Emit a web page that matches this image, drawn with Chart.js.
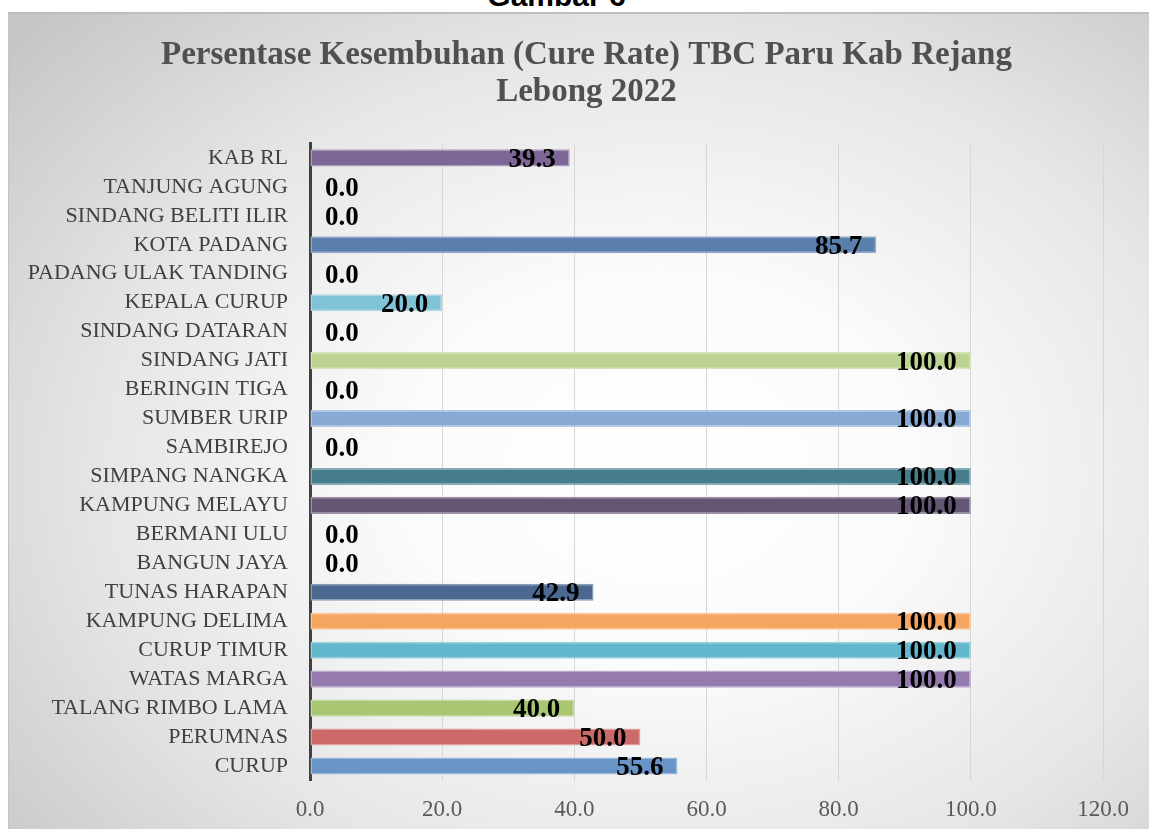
<!DOCTYPE html>
<html>
<head>
<meta charset="utf-8">
<script src="https://cdn.jsdelivr.net/npm/chart.js@4"></script>
<style>
  html, body { margin: 0; padding: 0; background: #ffffff; width: 1149px; height: 829px; overflow: hidden; }
  #caption { position: absolute; left: 0; width: 1113px; top: -19px; text-align: center;
    font: bold 30px "Liberation Sans", Arial, sans-serif; line-height: 30px; color: #000; }
  #frame { position: absolute; left: 8px; top: 12px; width: 1141px; height: 817px; box-sizing: border-box;
    border-top: 2px solid #bdbdbd; border-left: 1px solid #c4c4c4;
    background: radial-gradient(ellipse 75% 80% at 57% 56%, #ffffff 0%, #fbfbfb 30%, #e6e6e6 65%, #c6c6c6 100%); }
  #wrap { position: absolute; left: 0; top: 1px; width: 1140px; height: 816px; }
</style>
</head>
<body>
<div id="caption">Gambar 6</div>
<div id="frame"><div id="wrap"><canvas id="c"></canvas></div></div>
<script>
const titleLines = ["Persentase Kesembuhan (Cure Rate) TBC Paru Kab Rejang", "Lebong 2022"];
const categories = ["KAB RL", "TANJUNG AGUNG", "SINDANG BELITI ILIR", "KOTA PADANG", "PADANG ULAK TANDING",
  "KEPALA CURUP", "SINDANG DATARAN", "SINDANG JATI", "BERINGIN TIGA", "SUMBER URIP", "SAMBIREJO",
  "SIMPANG NANGKA", "KAMPUNG MELAYU", "BERMANI ULU", "BANGUN JAYA", "TUNAS HARAPAN", "KAMPUNG DELIMA",
  "CURUP TIMUR", "WATAS MARGA", "TALANG RIMBO LAMA", "PERUMNAS", "CURUP"];
const cureRate = [39.3, 0.0, 0.0, 85.7, 0.0, 20.0, 0.0, 100.0, 0.0, 100.0, 0.0,
  100.0, 100.0, 0.0, 0.0, 42.9, 100.0, 100.0, 100.0, 40.0, 50.0, 55.6];
const barColors = ["#7e6797", "#4f81bd", "#4f81bd", "#5a7fad", "#4f81bd", "#80c3d7", "#4f81bd",
  "#bcd391", "#4f81bd", "#88aad5", "#4f81bd", "#467f8b", "#665676", "#4f81bd", "#4f81bd",
  "#4a6890", "#f6a561", "#62b7cd", "#957aaf", "#a9c672", "#cb6a69", "#6894c8"];
const xTicks = [0, 20, 40, 60, 80, 100, 120];

function lighten(hex, f) {
  const n = parseInt(hex.slice(1), 16);
  const r = (n >> 16) & 255, g = (n >> 8) & 255, b = n & 255;
  const l = c => Math.round(c + (255 - c) * f);
  return `rgb(${l(r)},${l(g)},${l(b)})`;
}

// let the category labels extend left of the (narrowed) axis box without clipping
const unclipLabels = {
  id: 'unclipLabels',
  afterLayout(chart) { chart.scales.y.left = 0; }
};

const valueLabels = {
  id: 'valueLabels',
  afterDatasetsDraw(chart) {
    const ctx = chart.ctx;
    const meta = chart.getDatasetMeta(0);
    const xs = chart.scales.x;
    ctx.save();
    ctx.font = 'bold 27px "Liberation Serif", "Times New Roman", serif';
    ctx.fillStyle = '#000000';
    ctx.textBaseline = 'middle';
    meta.data.forEach((bar, i) => {
      const v = cureRate[i];
      const txt = v.toFixed(1);
      const y = bar.y + 2;
      if (v > 0) {
        ctx.textAlign = 'right';
        ctx.fillText(txt, bar.x - 14, y);
      } else {
        ctx.textAlign = 'left';
        ctx.fillText(txt, xs.getPixelForValue(0) + 15, y);
      }
    });
    ctx.restore();
  }
};

new Chart(document.getElementById('c'), {
  type: 'bar',
  data: {
    labels: categories,
    datasets: [{
      data: cureRate,
      backgroundColor: barColors,
      borderColor: barColors.map(c => lighten(c, 0.35)),
      borderWidth: ctx => (cureRate[ctx.dataIndex] > 0 ? 1.5 : 0),
      borderSkipped: false,
      categoryPercentage: 1.0,
      barPercentage: 0.59
    }]
  },
  options: {
    indexAxis: 'y',
    responsive: true,
    maintainAspectRatio: false,
    animation: false,
    layout: { padding: { left: 61, right: 46, top: 0, bottom: 0 } },
    plugins: {
      legend: { display: false },
      tooltip: { enabled: false },
      title: {
        display: true,
        text: titleLines,
        color: '#505050',
        font: { family: '"Liberation Serif", "Times New Roman", serif', size: 33, weight: 'bold', lineHeight: 1.15 },
        padding: { top: 21, bottom: 31.5 }
      }
    },
    scales: {
      x: {
        min: 0, max: 120,
        afterBuildTicks: s => { s.ticks = xTicks.map(v => ({ value: v })); },
        afterFit: s => { s.height = 50.5; },
        grid: { color: '#d6d6d6', lineWidth: 1, drawTicks: false },
        border: { display: false },
        ticks: {
          padding: 16,
          color: '#595959',
          font: { family: '"Liberation Serif", "Times New Roman", serif', size: 23 },
          callback: v => Number(v).toFixed(1)
        }
      },
      y: {
        afterFit: s => { s.width = 240; },
        grid: { display: false, drawTicks: false },
        border: { display: true, color: '#404040', width: 3 },
        ticks: {
          padding: 22,
          autoSkip: false,
          color: '#404040',
          font: { family: '"Liberation Serif", "Times New Roman", serif', size: 22 }
        }
      }
    }
  },
  plugins: [unclipLabels, valueLabels]
});
</script>
</body>
</html>
